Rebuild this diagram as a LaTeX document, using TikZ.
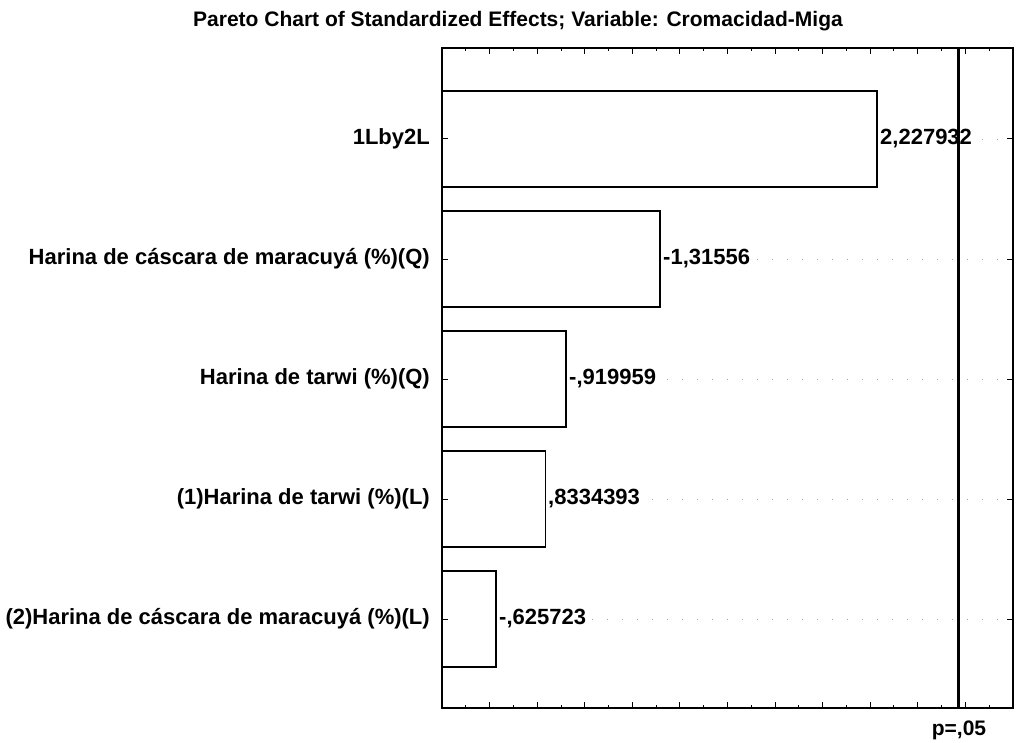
\documentclass[tikz,border=0pt]{standalone}
\usepackage{fontspec}
\setmainfont{Liberation Sans}
\begin{document}
\begin{tikzpicture}[x=1pt,y=-1pt,
  txt/.style={inner sep=0pt, font=\fontsize{21}{24}\selectfont\bfseries},
  cat/.style={txt, anchor=east, font=\fontsize{22}{25}\selectfont\bfseries},
  val/.style={txt, anchor=west, fill=white, inner sep=1pt, font=\fontsize{22}{25}\selectfont\bfseries},
  bar/.style={draw=black, line width=1.4pt, fill=white},
  grid/.style={gray!70, line width=0.8pt, dash pattern=on 1pt off 14pt},
  frame/.style={draw=black, line width=2.4pt},
  crit/.style={black, line width=3.4pt}]
\useasboundingbox (0,0) rectangle (1016,743);
\fill[white] (0,0) rectangle (1016,743);
% title
\node[txt] (title) at (518,21) {Pareto Chart of Standardized Effects; Variable: Cromacidad-Miga};
% grid lines at category centres
\foreach \yy in {139,259,379,499,619}
  \draw[grid] (442,\yy) -- (1012,\yy);
% bars
\draw[bar] (442,91) rectangle (876.8,187);
\draw[bar] (442,211) rectangle (659.8,307);
\draw[bar] (442,331) rectangle (565.8,427);
\draw[bar] (442,451) rectangle (545.2,547);
\draw[bar] (442,571) rectangle (495.8,667);
% category labels
\node[cat] (c1) at (430,139) {1Lby2L};
\node[cat] (c2) at (430,259) {Harina de cáscara de maracuyá (\%)(Q)};
\node[cat] (c3) at (430,379) {Harina de tarwi (\%)(Q)};
\node[cat] (c4) at (430,499) {(1)Harina de tarwi (\%)(L)};
\node[cat] (c5) at (430,619) {(2)Harina de cáscara de maracuyá (\%)(L)};
% value labels
\node[val] (v1) at (879,139) {2,227932};
\node[val] (v2) at (662,259) {-1,31556};
\node[val] (v3) at (568,379) {-,919959};
\node[val] (v4) at (547,499) {,8334393};
\node[val] (v5) at (498,619) {-,625723};
% ticks on top and bottom
\foreach \v in {4,...,28} {
  \pgfmathsetmacro{\xx}{347+23.78*\v}
  \pgfmathsetmacro{\tl}{ifthenelse(mod(\v,2)==0,6,3.5)}
  \draw[line width=1pt] (\xx,48) -- (\xx,48+\tl);
  \draw[line width=1pt] (\xx,708) -- (\xx,708-\tl);
}
% ticks on left and right
\foreach \yy in {139,259,379,499,619} {
  \draw[line width=1pt] (442,\yy) -- (448,\yy);
  \draw[line width=1pt] (1012.8,\yy) -- (1006.8,\yy);
}
% critical value line
\draw[crit] (958.3,48) -- (958.3,708);
% frame
\draw[frame] (442,48) rectangle (1012.8,708);
\node[txt] (p) at (959,730) {p=,05};
\end{tikzpicture}
\end{document}
